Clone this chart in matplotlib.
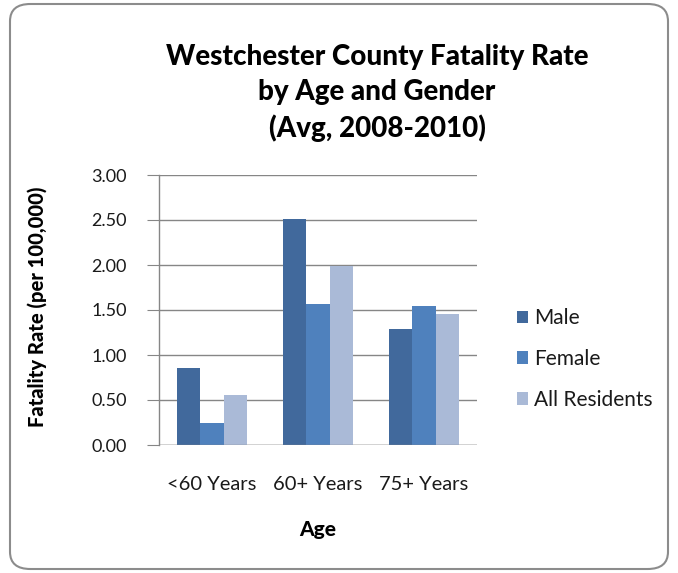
import matplotlib
matplotlib.use("Agg")
import matplotlib.pyplot as plt
from matplotlib.patches import FancyBboxPatch
import numpy as np

categories = ["<60 Years", "60+ Years", "75+ Years"]
series_names = ["Male", "Female", "All Residents"]
male = [0.86, 2.51, 1.29]
female = [0.24, 1.57, 1.55]
all_res = [0.56, 1.99, 1.46]
yticks = [0.0, 0.5, 1.0, 1.5, 2.0, 2.5, 3.0]
colors = ["#41699C", "#4F81BD", "#AABAD7"]

plt.rcParams['font.family'] = ['Lato', 'DejaVu Sans']

W, H = 678, 573
fig = plt.figure(figsize=(W/100, H/100), dpi=100)
fig.patch.set_facecolor("white")

border = FancyBboxPatch((10/W, 4/H), 658/W, 565/H,
                        boxstyle="round,pad=0,rounding_size=0.03",
                        transform=fig.transFigure, fill=False,
                        edgecolor="#8C8C8C", linewidth=1.5)
fig.patches.append(border)

ax = fig.add_axes([159/W, 1-445/H, (477-159)/W, (445-175)/H])
x = np.arange(len(categories)) + 0.5
bw = 0.22
for i, (vals, name) in enumerate(zip([male, female, all_res], series_names)):
    ax.bar(x + (i-1)*bw, vals, width=bw, color=colors[i], label=name, zorder=3)

ax.set_xlim(0, 3)
ax.set_ylim(0, 3.0)
ax.set_yticks(yticks)
ax.set_yticklabels([f"{v:.2f}" for v in yticks], fontsize=13, color="#1A1A1A")
ax.set_xticks(x)
ax.set_xticklabels(categories, fontsize=14.5, color="#1A1A1A")
ax.yaxis.grid(True, color="#868686", linewidth=1.0, zorder=0)
for s in ["top", "right", "bottom"]:
    ax.spines[s].set_visible(False)
ax.spines["left"].set_color("#868686")
ax.spines["left"].set_linewidth(1.0)
ax.tick_params(axis="y", length=9, color="#868686", pad=14)
ax.tick_params(axis="x", length=0, pad=22)
ax.axhline(0, color="#868686", linewidth=1.0, zorder=4)

ax.set_xlabel("Age", fontsize=15, fontweight="black", labelpad=20)
ax.set_ylabel("Fatality Rate (per 100,000)", fontsize=14.5, fontweight="black")
ax.yaxis.set_label_coords(-0.352, 0.51)

fig.text(377/W, 1-93/H, "Westchester County Fatality Rate\nby Age and Gender\n(Avg, 2008-2010)",
         ha="center", va="center", fontsize=20, fontweight="black", linespacing=1.42)

leg = fig.legend(loc="center left", bbox_to_anchor=(498/W, 1-359/H), frameon=False,
                 fontsize=15, handlelength=0.55, handleheight=0.55, handletextpad=0.3,
                 labelspacing=1.0)
for t in leg.get_texts():
    t.set_color("#1A1A1A")

fig.savefig("out.png", dpi=100, facecolor="white")
